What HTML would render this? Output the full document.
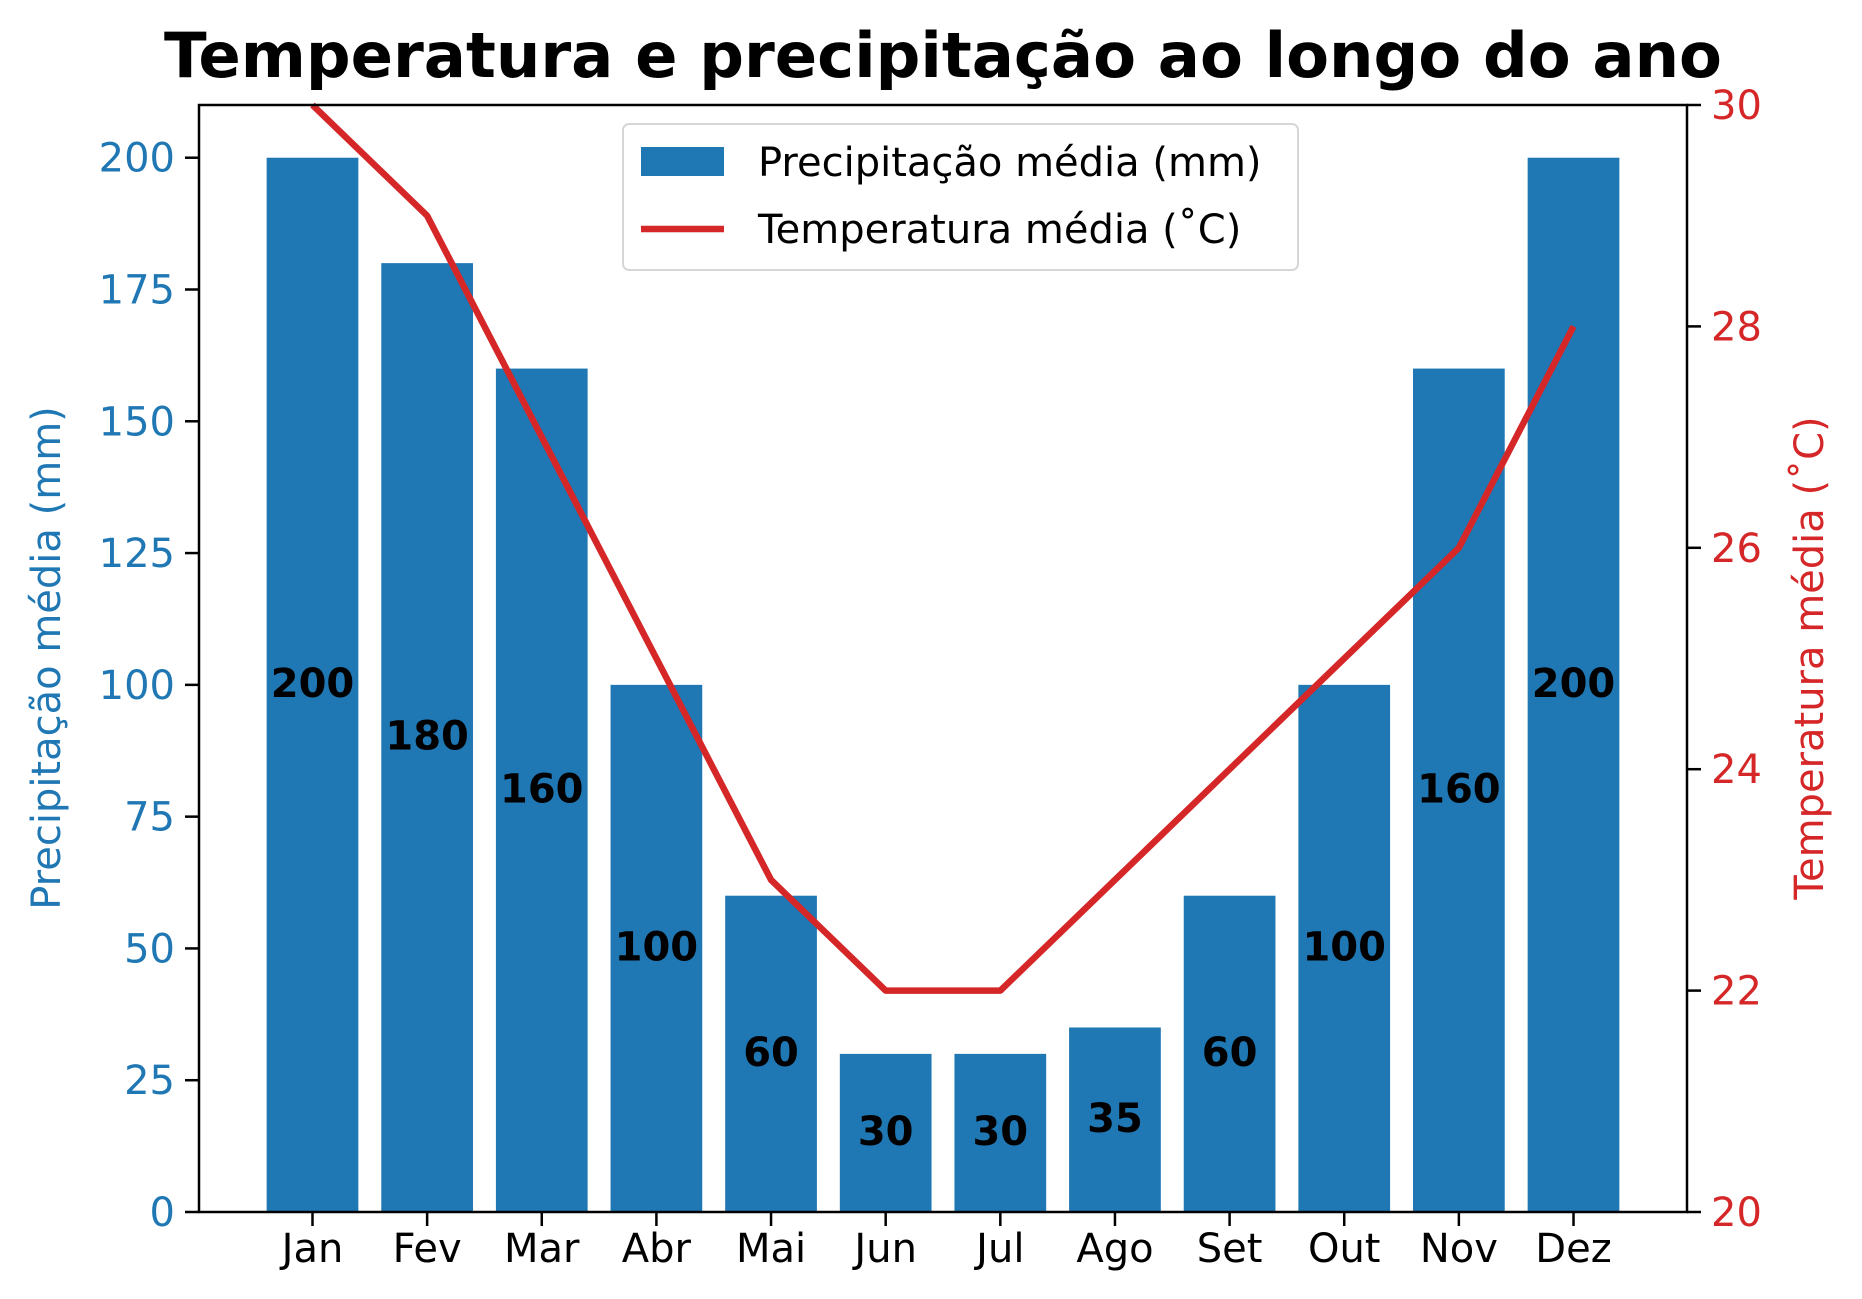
<!DOCTYPE html>
<html><head><meta charset="utf-8">
<style>
html,body{margin:0;padding:0;background:#fff;}
svg{display:block;font-family:"DejaVu Sans","Liberation Sans",sans-serif;}
</style></head>
<body>
<svg id="chart" width="1862" height="1299" viewBox="0 0 1862 1299" xmlns="http://www.w3.org/2000/svg">
<text x="943" y="77" text-anchor="middle" font-size="62.5" font-weight="bold" fill="#000">Temperatura e precipitação ao longo do ano</text>
<g id="bars"></g>
<g id="barlabels"></g>
<g id="line"></g>
<g id="axes"></g>
<text transform="translate(60,658) rotate(-90)" text-anchor="middle" font-size="40" fill="#1f77b4">Precipitação média (mm)</text>
<text transform="translate(1823,658) rotate(-90)" text-anchor="middle" font-size="40" fill="#d62728">Temperatura média (˚C)</text>
<g>
<rect x="623" y="124" width="675" height="146" rx="6" fill="#fff" fill-opacity="0.8" stroke="#d6d6d6" stroke-width="2"/>
<rect x="641" y="147" width="83" height="29" fill="#1f77b4"/>
<text x="758" y="176" font-size="40" fill="#000">Precipitação média (mm)</text>
<line x1="641" y1="229" x2="724" y2="229" stroke="#d62728" stroke-width="6.5"/>
<text x="758" y="243" font-size="40" fill="#000">Temperatura média (˚C)</text>
</g>
</svg>
<script>
const months = ["Jan","Fev","Mar","Abr","Mai","Jun","Jul","Ago","Set","Out","Nov","Dez"];
const precipitation = [200,180,160,100,60,30,30,35,60,100,160,200];
const temperature = [30,29,27,25,23,22,22,23,24,25,26,28];
const leftTicks = [0,25,50,75,100,125,150,175,200];
const rightTicks = [20,22,24,26,28,30];

const NS="http://www.w3.org/2000/svg";
const L=199,R=1687,T=105,B=1212;
const xMin=-0.99,xMax=11.99,yMax=210,tMin=20,tMax=30;
const xs=v=>L+(v-xMin)/(xMax-xMin)*(R-L);
const ys=v=>B-v/yMax*(B-T);
const yt=v=>B-(v-tMin)/(tMax-tMin)*(B-T);
function mk(tag,attrs,parent,text){const e=document.createElementNS(NS,tag);for(const k in attrs)e.setAttribute(k,attrs[k]);if(text!==undefined)e.textContent=text;parent.appendChild(e);return e;}
const bars=document.getElementById('bars'),bl=document.getElementById('barlabels'),lg=document.getElementById('line'),ax=document.getElementById('axes');
precipitation.forEach((v,i)=>{
  const r=mk('rect',{x:xs(i-0.4),y:ys(v),width:xs(i+0.4)-xs(i-0.4),height:B-ys(v),fill:'#1f77b4'},bars);
  
  
  const t=mk('text',{x:xs(i),y:ys(v/2)+12,'text-anchor':'middle','font-size':'40','font-weight':'bold',fill:'#000'},bl,String(v));
  
  
});
const pts=temperature.map((v,i)=>xs(i)+','+yt(v)).join(' ');
const pl=mk('polyline',{points:pts,fill:'none',stroke:'#d62728','stroke-width':'6.5','stroke-linejoin':'round'},lg);


const fr=mk('rect',{x:L,y:T,width:R-L,height:B-T,fill:'none',stroke:'#000','stroke-width':'2.5'},ax);


leftTicks.forEach(v=>{
  const y=ys(v);
  const tk=mk('line',{x1:L-14,y1:y,x2:L,y2:y,stroke:'#000','stroke-width':'2.5'},ax);
  
  
  const t=mk('text',{x:L-24,y:y+14,'text-anchor':'end','font-size':'40',fill:'#1f77b4'},ax,String(v));
  
  
});
rightTicks.forEach(v=>{
  const y=yt(v);
  const tk=mk('line',{x1:R,y1:y,x2:R+14,y2:y,stroke:'#000','stroke-width':'2.5'},ax);
  
  
  const t=mk('text',{x:R+24,y:y+14,'text-anchor':'start','font-size':'40',fill:'#d62728'},ax,String(v));
  
  
});
months.forEach((m,i)=>{
  const x=xs(i);
  const tk=mk('line',{x1:x,y1:B,x2:x,y2:B+14,stroke:'#000','stroke-width':'2.5'},ax);
  
  
  const t=mk('text',{x:x,y:B+50,'text-anchor':'middle','font-size':'40',fill:'#000'},ax,m);
  
  
});
</script>
</body></html>
